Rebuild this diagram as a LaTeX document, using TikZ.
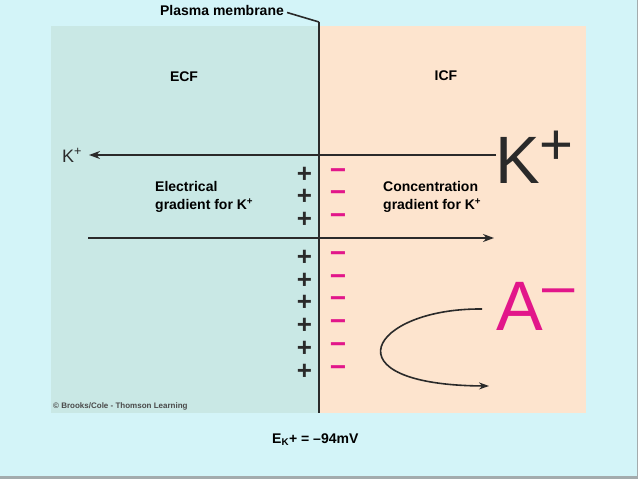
\documentclass[tikz,border=0pt]{standalone}
\usepackage{fontspec}
\setmainfont{Liberation Sans}
\usetikzlibrary{arrows.meta}
\definecolor{bgc}{HTML}{D3F4F8}
\definecolor{ecfc}{HTML}{C9E8E5}
\definecolor{icfc}{HTML}{FDE4CE}
\definecolor{magc}{HTML}{E2168A}
\definecolor{darkc}{HTML}{2A2A2A}
\definecolor{edgec}{HTML}{A3ABAD}
\tikzset{
  lbl/.style={font=\bfseries\fontsize{14}{18}\selectfont, text=black, inner sep=0pt},
  plusmark/.style={font=\bfseries\fontsize{26}{26}\selectfont, text=darkc, inner sep=0pt, anchor=base, text height=17pt, text depth=0pt},
  minusmark/.style={font=\bfseries\fontsize{28}{28}\selectfont, text=magc, inner sep=0pt, anchor=base, text height=9pt, text depth=0pt},
  arr/.style={draw=darkc, line width=2pt, -{Stealth[length=11pt,width=8pt]}},
}
\begin{document}
\begin{tikzpicture}[x=1pt,y=-1pt]
\fill[bgc] (0,0) rectangle (638,479);
\useasboundingbox (0,0) rectangle (638,479);
\fill[edgec] (0,476) rectangle (638,479);
\fill[edgec] (636.5,0) rectangle (638,479);
% panels
\fill[ecfc] (51,26) rectangle (319,413);
\fill[icfc] (319,26) rectangle (586,413);
% membrane
\coordinate (mtop) at (319,22);
\coordinate (mbot) at (319,413);
\draw[darkc, line width=2.5pt] (mtop) -- (mbot);
\node[lbl, anchor=base] (pm) at (222,15.5) {Plasma membrane};
\draw[darkc, line width=1.6pt] ([xshift=3pt,yshift=-2pt]pm.east) -- (mtop);
% region labels
\node[lbl] (ecf) at (184,77) {ECF};
\node[lbl] (icf) at (446,76) {ICF};
% ions
\node[font=\fontsize{18}{18}\selectfont, text=darkc, inner sep=0pt, anchor=base west] (kl) at (62,162) {K\textsuperscript{+}};
\node[font=\fontsize{67}{67}\selectfont, text=darkc, inner sep=0pt, anchor=base west] (kbig) at (495,183) {K\raisebox{19pt}{\fontsize{58}{58}\selectfont +}};
\node[font=\fontsize{70}{70}\selectfont, text=magc, inner sep=0pt, anchor=base west] (abig) at (496,330) {A\raisebox{24.5pt}{\fontsize{58}{58}\selectfont –}};
% arrows
\coordinate (a1s) at (496,155);
\coordinate (a1e) at (89,155);
\draw[arr] (a1s) -- (a1e);
\coordinate (a2s) at (88,238);
\coordinate (a2e) at (494,238);
\draw[arr] (a2s) -- (a2e);
\coordinate (cs) at (482,309);
\coordinate (ce) at (489,386);
\draw[draw=darkc, line width=1.6pt, -{Stealth[length=10pt,width=7pt]}] (cs) .. controls (370,308) and (325,385) .. (ce);
% gradient labels
\node[lbl, anchor=north west, align=left] (elec) at (155,181) {Electrical\\gradient for K\textsuperscript{+}};
\node[lbl, anchor=north west, align=left] (conc) at (383,181) {Concentration\\gradient for K\textsuperscript{+}};
% charges
\foreach \yy [count=\i] in {172,194.5,217,255,278,300.5,323.5,346.5,369.5}{
  \node[plusmark] (p\i) at (304.5,\yy+10.4) {+};
  \node[minusmark] (m\i) at (338,\yy+7.2) {−};
}
% copyright
\node[font=\bfseries\fontsize{8}{9}\selectfont, text=darkc!85, inner sep=0pt, anchor=west] (copy) at (53,406) {© Brooks/Cole - Thomson Learning};
% potential
\node[lbl, anchor=base west] (ek) at (272,443) {E\textsubscript{K}+ = –94mV};
\end{tikzpicture}
\end{document}
